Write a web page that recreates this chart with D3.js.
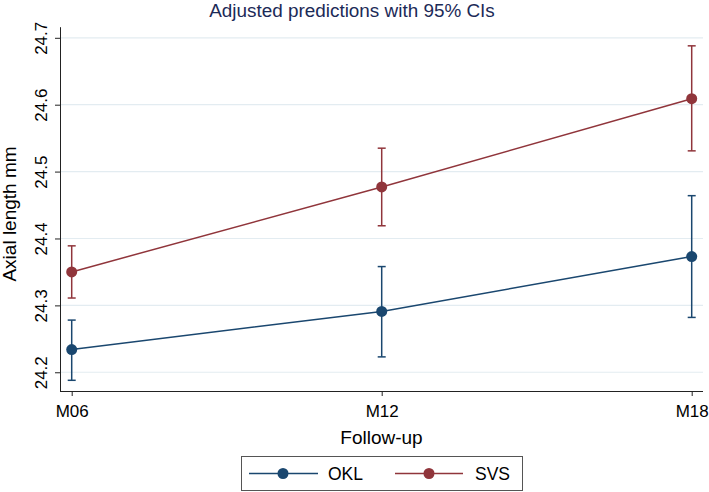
<!DOCTYPE html>
<html><head><meta charset="utf-8">
<script src="https://cdn.jsdelivr.net/npm/d3@7"></script>
<style>body{margin:0;background:#fff}svg{display:block}text{font-family:"Liberation Sans",Arial,Helvetica,sans-serif}</style>
</head><body><svg id="c" width="709" height="492"></svg>
<script>
const categories = ["M06","M12","M18"];
const seriesNames = ["OKL","SVS"];
const okl = [24.234, 24.291, 24.373];
const oklLo = [24.188, 24.223, 24.282];
const oklHi = [24.278, 24.358, 24.464];
const svs = [24.350, 24.477, 24.609];
const svsLo = [24.311, 24.419, 24.531];
const svsHi = [24.389, 24.535, 24.688];
const yTicks = [24.2, 24.3, 24.4, 24.5, 24.6, 24.7];
const colors = ["#1a476f", "#90353b"];

const svg = d3.select("#c");
const x = d3.scalePoint().domain(categories).range([71.7, 691.7]);
const y = d3.scaleLinear().domain([24.172, 24.7166]).range([391, 26.7]);
const plotL = 60, plotR = 703;

// gridlines
svg.append("g").selectAll("line").data(yTicks).join("line")
  .attr("x1", plotL).attr("x2", plotR)
  .attr("y1", d => y(d)).attr("y2", d => y(d))
  .attr("stroke", "#e3ecf1").attr("stroke-width", 1.2);

// y axis
const ya = svg.append("g").attr("transform", `translate(${plotL},0)`)
  .call(d3.axisLeft(y).tickValues(yTicks).tickSize(5).tickSizeOuter(0).tickFormat(d3.format(".1f")));
ya.select(".domain").attr("stroke", "#222");
ya.selectAll(".tick line").attr("stroke", "#222");
ya.selectAll(".tick text").attr("font-size", 17).attr("fill", "#000")
  .attr("transform", "rotate(-90)").attr("x", 0).attr("y", -13).attr("dy", 0)
  .attr("text-anchor", "middle");

// x axis
const xa = svg.append("g").attr("transform", `translate(0,391)`)
  .call(d3.axisBottom(x).tickSize(5).tickSizeOuter(0));
xa.select(".domain").attr("stroke", "#222").attr("d", `M${plotL},0.5H${plotR}`);
xa.selectAll(".tick line").attr("stroke", "#222");
xa.selectAll(".tick text").attr("font-size", 17).attr("fill", "#000").attr("y", 14).attr("dy", "0.71em");

// titles
svg.append("text").attr("x", 352).attr("y", 17).attr("text-anchor", "middle")
  .attr("font-size", 18.9).attr("fill", "#1c2a57").text("Adjusted predictions with 95% CIs");
svg.append("text").attr("x", 381.5).attr("y", 443.5).attr("text-anchor", "middle")
  .attr("font-size", 19).attr("fill", "#000").text("Follow-up");
svg.append("text").attr("transform", "translate(15.5,214) rotate(-90)").attr("text-anchor", "middle")
  .attr("font-size", 19).attr("fill", "#000").text("Axial length mm");

// series
const series = [
  {name: seriesNames[0], v: okl, lo: oklLo, hi: oklHi, c: colors[0]},
  {name: seriesNames[1], v: svs, lo: svsLo, hi: svsHi, c: colors[1]}
];
const line = d3.line().x((d, i) => x(categories[i])).y(d => y(d));
series.forEach(s => {
  const g = svg.append("g");
  const idx = d3.range(categories.length);
  g.selectAll("line.v").data(idx).join("line")
    .attr("x1", i => x(categories[i])).attr("x2", i => x(categories[i]))
    .attr("y1", i => y(s.lo[i])).attr("y2", i => y(s.hi[i]))
    .attr("stroke", s.c).attr("stroke-width", 1.5);
  [s.lo, s.hi].forEach(arr => {
    g.selectAll(null).data(idx).join("line")
      .attr("x1", i => x(categories[i]) - 4).attr("x2", i => x(categories[i]) + 4)
      .attr("y1", i => y(arr[i])).attr("y2", i => y(arr[i]))
      .attr("stroke", s.c).attr("stroke-width", 1.5);
  });
  g.append("path").attr("d", line(s.v)).attr("fill", "none").attr("stroke", s.c).attr("stroke-width", 1.5);
  g.selectAll("circle").data(s.v).join("circle")
    .attr("cx", (d, i) => x(categories[i])).attr("cy", d => y(d)).attr("r", 5.5).attr("fill", s.c);
});

// legend
const lg = svg.append("g");
lg.append("rect").attr("x", 241.5).attr("y", 456.5).attr("width", 281).attr("height", 34)
  .attr("fill", "#fff").attr("stroke", "#555").attr("stroke-width", 1);
const legX = [[249, 318, 283, 328], [395, 463, 429, 475]];
series.forEach((s, k) => {
  const [a, b, m, t] = legX[k];
  lg.append("line").attr("x1", a).attr("x2", b).attr("y1", 473.5).attr("y2", 473.5).attr("stroke", s.c).attr("stroke-width", 1.5);
  lg.append("circle").attr("cx", m).attr("cy", 473.5).attr("r", 5.5).attr("fill", s.c);
  lg.append("text").attr("x", t).attr("y", 479.5).attr("font-size", 17.5).attr("fill", "#000").text(s.name);
});
</script></body></html>
